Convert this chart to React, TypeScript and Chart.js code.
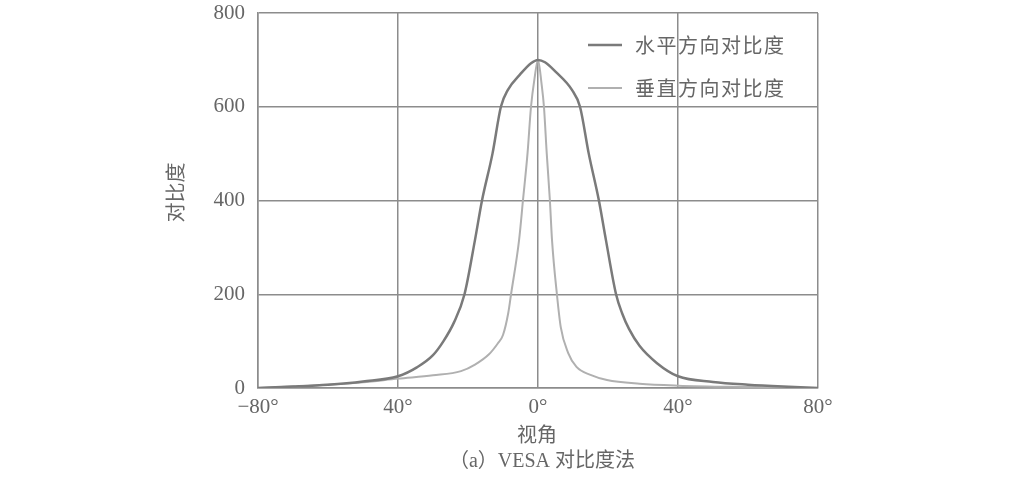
import { useEffect, useRef } from 'react';
import { Chart, registerables } from 'chart.js';

Chart.register(...registerables);

// Horizontal-direction contrast (darker curve)
const horizAngles = [-80, -70, -60, -50, -40, -34.6, -30, -27, -24, -21, -18, -16, -13, -10.6, -8.6, -5, -2, 0, 2, 5, 9.7, 12, 14.5, 17.4, 19.4, 22.3, 24, 26, 29, 34, 40, 50, 60, 70, 80];
const horizValues = [0, 3, 7, 14, 25, 44, 70, 100, 140, 200, 316, 400, 500, 600, 636, 670, 693, 700, 695, 675, 636, 600, 500, 400, 316, 200, 160, 126, 90, 53, 25, 13, 7, 3, 0];

// Vertical-direction contrast (lighter curve)
const vertAngles = [-80, -70, -60, -50, -40, -30, -22, -18, -14, -11.5, -10, -8.5, -7.7, -5.4, -4.3, -3, -2, -1, 0, 1, 1.7, 2.5, 3.4, 4, 5.4, 6.5, 8.6, 11, 15, 19.7, 29, 40, 60, 80];
const vertValues = [0, 3, 7, 12, 20, 27, 36, 50, 72, 95, 113, 160, 200, 316, 400, 500, 600, 660, 700, 650, 600, 500, 400, 316, 200, 130, 75, 45, 28, 17, 9, 5, 2, 0];

const seriesNames = ['水平方向对比度', '垂直方向对比度'];
const xTickLabels = ['−80°', '40°', '0°', '40°', '80°'];
const yTickLabels = ['0', '200', '400', '600', '800'];
const xTitle = '视角';
const yTitle = '对比度';
const caption = '（a）VESA 对比度法';

const TEXT = '#666';
const DARK = '#7a7a7a';
const LIGHT = '#b0b0b0';
const GRID = '#8c8c8c';
const CJK = '"Noto Sans CJK SC", sans-serif';

export default function App() {
  const canvasRef = useRef<HTMLCanvasElement>(null);

  useEffect(() => {
    document.body.style.margin = '0';
    if (!canvasRef.current) return;

    const extras = {
      id: 'extras',
      afterDraw(chart: Chart) {
        const { ctx, chartArea } = chart;
        ctx.save();
        ctx.fillStyle = TEXT;
        ctx.textBaseline = 'middle';

        // legend
        const colors = [DARK, LIGHT];
        const widths = [2.5, 2];
        seriesNames.forEach((name, i) => {
          const y = chartArea.top + 32 + i * 43;
          ctx.strokeStyle = colors[i];
          ctx.lineWidth = widths[i];
          ctx.beginPath();
          ctx.moveTo(chartArea.left + 330, y);
          ctx.lineTo(chartArea.left + 364, y);
          ctx.stroke();
          ctx.font = `20px ${CJK}`;
          ctx.textAlign = 'left';
          (ctx as any).letterSpacing = '1.5px';
          ctx.fillText(name, chartArea.left + 377, y);
        });
        (ctx as any).letterSpacing = '0px';

        // x title + caption
        const cx = (chartArea.left + chartArea.right) / 2;
        ctx.textAlign = 'center';
        ctx.font = `20px ${CJK}`;
        ctx.fillText(xTitle, cx - 1, chartArea.bottom + 46);
        ctx.font = `20px "Liberation Serif", ${CJK}`;
        ctx.fillText(caption, cx + 4, chartArea.bottom + 74);

        // y title
        ctx.translate(175, (chartArea.top + chartArea.bottom) / 2 - 8);
        ctx.rotate(-Math.PI / 2);
        ctx.font = `20px ${CJK}`;
        ctx.fillText(yTitle, 0, 0);
        ctx.restore();
      }
    };

    const chart = new Chart(canvasRef.current, {
      type: 'line',
      data: {
        datasets: [
          {
            label: seriesNames[0],
            data: horizAngles.map((a, i) => ({ x: a, y: horizValues[i] })),
            borderColor: DARK,
            borderWidth: 2.5,
            pointRadius: 0,
            cubicInterpolationMode: 'monotone',
            fill: false
          },
          {
            label: seriesNames[1],
            data: vertAngles.map((a, i) => ({ x: a, y: vertValues[i] })),
            borderColor: LIGHT,
            borderWidth: 2,
            pointRadius: 0,
            cubicInterpolationMode: 'monotone',
            fill: false
          }
        ]
      },
      options: {
        responsive: true,
        maintainAspectRatio: false,
        animation: false,
        layout: {
          padding: { top: 13, right: 197, bottom: 0, left: 0 }
        },
        plugins: {
          legend: { display: false },
          tooltip: { enabled: false }
        },
        scales: {
          x: {
            type: 'linear',
            min: -80,
            max: 80,
            afterFit: (scale: any) => {
              scale.height = 95;
            },
            grid: {
              color: GRID,
              lineWidth: 1.5,
              drawTicks: false
            },
            border: { color: GRID, width: 1.5 },
            ticks: {
              stepSize: 40,
              padding: 7,
              color: TEXT,
              font: { family: '"Liberation Serif", serif', size: 21 },
              callback: (_v: any, i: number) => xTickLabels[i]
            }
          },
          y: {
            min: 0,
            max: 800,
            afterFit: (scale: any) => {
              scale.width = 258;
              scale.paddingTop = 0;
              scale.paddingBottom = 0;
            },
            grid: {
              color: GRID,
              lineWidth: 1.5,
              drawTicks: false
            },
            border: { color: GRID, width: 1.5 },
            ticks: {
              stepSize: 200,
              padding: 13,
              color: TEXT,
              font: { family: '"Liberation Serif", serif', size: 21 },
              callback: (_v: any, i: number) => yTickLabels[i]
            }
          }
        }
      },
      plugins: [extras]
    });

    return () => {
      chart.destroy();
    };
  }, []);

  return (
    <div style={{ width: 1015, height: 483, position: 'relative', background: '#fff' }}>
      <canvas ref={canvasRef}></canvas>
    </div>
  );
}
